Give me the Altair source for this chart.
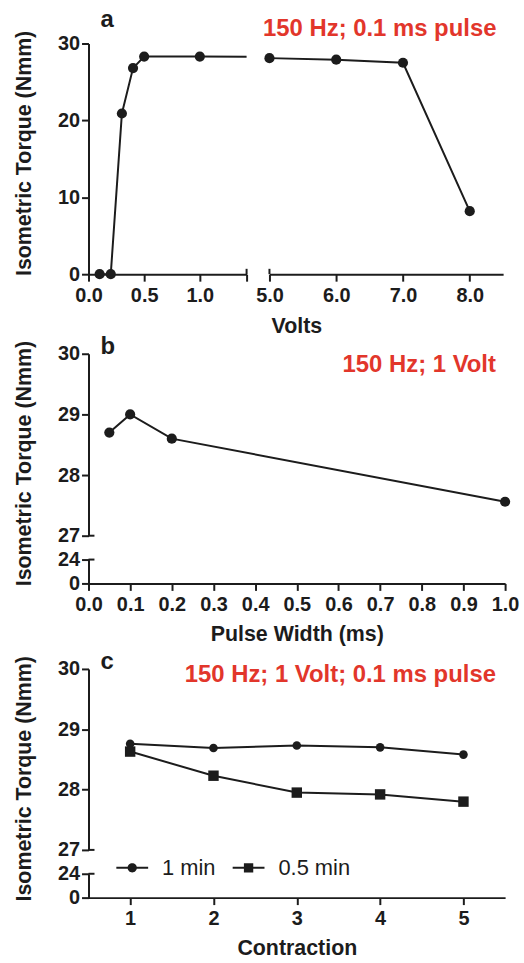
import altair as alt
import pandas as pd

# ---------------- data ----------------
volts_low = [0.1, 0.2, 0.3, 0.4, 0.5, 1.0]
torque_volts_low = [0.0, 0.0, 20.9, 26.8, 28.3, 28.3]
volts_high = [5.0, 6.0, 7.0, 8.0]
torque_volts_high = [28.1, 27.9, 27.5, 8.2]

pulse_width = [0.05, 0.1, 0.2, 1.0]
torque_pulse = [28.7, 29.0, 28.6, 27.56]

contraction = [1, 2, 3, 4, 5]
torque_1min = [28.76, 28.69, 28.73, 28.70, 28.58]
torque_05min = [28.63, 28.23, 27.95, 27.92, 27.80]
series_names = ["1 min", "0.5 min"]

volts_ticks_low = [0.0, 0.5, 1.0]
volts_ticks_high = [5.0, 6.0, 7.0, 8.0]
pulse_ticks = [0.0, 0.1, 0.2, 0.3, 0.4, 0.5, 0.6, 0.7, 0.8, 0.9, 1.0]
contraction_ticks = [1, 2, 3, 4, 5]
torque_ticks_a = [0, 10, 20, 30]
torque_ticks_upper = [27, 28, 29, 30]
torque_ticks_lower = [0, 24]

label_a = "150 Hz; 0.1 ms pulse"
label_b = "150 Hz; 1 Volt"
label_c = "150 Hz; 1 Volt; 0.1 ms pulse"
y_title = "Isometric Torque (Nmm)"

# ---------------- style ----------------
FONT = "Liberation Sans"
INK = "#1c1c1c"
RED = "#e2362b"

# scale domains (axis breaks)
VOLT_LOW_DOM = [0, 1.42]
VOLT_HIGH_DOM = [5, 8.5]
PULSE_DOM = [0, 1]
CONTR_DOM = [0.5, 5.5]
UPPER_DOM = [27, 30]
LOWER_DOM = [0, 24]


def ytitle_axis(values, title_y):
    return alt.Axis(values=values, format="d", title=y_title, titleX=-64, titleY=title_y,
                    titleAngle=-90, titleAlign="center", titleBaseline="middle")


def letter(ch, dy):
    return alt.Chart(pd.DataFrame({"t": [ch]})).mark_text(
        align="left", baseline="alphabetic", font=FONT, fontSize=24, fontWeight="bold", color=INK
    ).encode(text="t:N", x=alt.value(12), y=alt.value(dy))


def note(df, x, y):
    return alt.Chart(df).mark_text(
        align="right", baseline="middle", font=FONT, fontSize=24, fontWeight="bold", color=RED
    ).encode(x=x, y=y, text="label:N")


# ---------------- panel a ----------------
df_volts = pd.DataFrame({
    "volts": volts_low + volts_high,
    "torque": torque_volts_low + torque_volts_high,
    "part": ["low"] * len(volts_low) + ["high"] * len(volts_high),
})

xa_low = alt.X("volts:Q", scale=alt.Scale(domain=VOLT_LOW_DOM, nice=False, zero=False),
               axis=alt.Axis(values=volts_ticks_low + [VOLT_LOW_DOM[1]],
                             labelExpr="datum.value > 1.2 ? '' : format(datum.value, '.1f')",
                             title="Volts", titleX=209, titleY=53, titleBaseline="middle"))
ya = alt.Y("torque:Q", scale=alt.Scale(domain=[0, 30], nice=False),
           axis=ytitle_axis(torque_ticks_a, 110))

a_line = alt.Chart(df_volts).mark_line(clip=True, color=INK, strokeWidth=2).encode(
    x=xa_low, y=ya, order="volts:Q")
a_pts = alt.Chart(df_volts).transform_filter("datum.part == 'low'").mark_circle(
    size=105, color=INK, opacity=1).encode(x=xa_low, y=ya)
a_cap = alt.Chart(pd.DataFrame({"volts": [VOLT_LOW_DOM[1]], "torque": [0], "torque_end": [0.7]})).mark_rule(
    color=INK, strokeWidth=2).encode(x=xa_low, y=ya, y2="torque_end:Q")
a_left = alt.layer(a_line, a_pts, a_cap, letter("a", -17)).properties(width=159, height=232)

xa_high = alt.X("volts:Q", scale=alt.Scale(domain=VOLT_HIGH_DOM, nice=False, zero=False),
                axis=alt.Axis(values=volts_ticks_high, format=".1f", title=None))
ya_r = alt.Y("torque:Q", scale=alt.Scale(domain=[0, 30], nice=False), axis=None)
df_high = df_volts[df_volts.part == "high"]
ar_line = alt.Chart(df_high).mark_line(color=INK, strokeWidth=2).encode(x=xa_high, y=ya_r, order="volts:Q")
ar_pts = alt.Chart(df_high).mark_circle(size=105, color=INK, opacity=1).encode(x=xa_high, y=ya_r)
ar_cap = alt.Chart(pd.DataFrame({"volts": [VOLT_HIGH_DOM[0]], "torque": [0], "torque_end": [0.7]})).mark_rule(
    color=INK, strokeWidth=2).encode(x=xa_high, y=ya_r, y2="torque_end:Q")
ar_note = note(pd.DataFrame({"volts": [8.4], "torque": [31.9], "label": [label_a]}), xa_high, ya_r)
a_right = alt.layer(ar_line, ar_pts, ar_cap, ar_note).properties(width=235, height=232)

panel_a = alt.hconcat(a_left, a_right, spacing=23, bounds="flush")

# ---------------- panel b ----------------
df_pulse = pd.DataFrame({"pulse": pulse_width, "torque": torque_pulse})
xb_up = alt.X("pulse:Q", scale=alt.Scale(domain=PULSE_DOM, nice=False), axis=None)
yb_up = alt.Y("torque:Q", scale=alt.Scale(domain=UPPER_DOM, nice=False, zero=False),
              axis=ytitle_axis(torque_ticks_upper, 110))
b_line = alt.Chart(df_pulse).mark_line(color=INK, strokeWidth=2).encode(x=xb_up, y=yb_up)
b_pts = alt.Chart(df_pulse).mark_circle(size=105, color=INK, opacity=1).encode(x=xb_up, y=yb_up)
b_cap = alt.Chart(pd.DataFrame({"pulse": [0], "pulse_end": [0.0143], "torque": [27]})).mark_rule(
    color=INK, strokeWidth=2).encode(x=xb_up, x2="pulse_end:Q", y=yb_up)
b_note = note(pd.DataFrame({"pulse": [0.978], "torque": [29.82], "label": [label_b]}), xb_up, yb_up)
b_up = alt.layer(b_line, b_pts, b_cap, b_note, letter("b", 0)).properties(width=419, height=183)

xb_low = alt.X("pulse:Q", scale=alt.Scale(domain=PULSE_DOM, nice=False),
               axis=alt.Axis(values=pulse_ticks, format=".1f", title="Pulse Width (ms)",
                             titleX=209.5, titleY=51, titleBaseline="middle"))
yb_low = alt.Y("torque:Q", scale=alt.Scale(domain=LOWER_DOM, nice=False),
               axis=alt.Axis(values=torque_ticks_lower, format="d", title=None))
bl_cap = alt.Chart(pd.DataFrame({"pulse": [0], "pulse_end": [0.0143], "torque": [24]})).mark_rule(
    color=INK, strokeWidth=2).encode(x=xb_low, x2="pulse_end:Q", y=yb_low)
b_low = alt.layer(bl_cap).properties(width=419, height=24)

panel_b = alt.vconcat(b_up, b_low, spacing=24, bounds="flush")

# ---------------- panel c ----------------
df_c = pd.DataFrame({
    "contraction": contraction + contraction,
    "torque": torque_1min + torque_05min,
    "series": [series_names[0]] * len(contraction) + [series_names[1]] * len(contraction),
})
xc_up = alt.X("contraction:Q", scale=alt.Scale(domain=CONTR_DOM, nice=False, zero=False), axis=None)
yc_up = alt.Y("torque:Q", scale=alt.Scale(domain=UPPER_DOM, nice=False, zero=False),
              axis=ytitle_axis(torque_ticks_upper, 110))
c_line = alt.Chart(df_c).mark_line(color=INK, strokeWidth=2).encode(x=xc_up, y=yc_up, detail="series:N")
c_circ = alt.Chart(df_c).transform_filter(f"datum.series == '{series_names[0]}'").mark_point(
    shape="circle", filled=True, size=75, color=INK, opacity=1).encode(x=xc_up, y=yc_up)
c_sq = alt.Chart(df_c).transform_filter(f"datum.series == '{series_names[1]}'").mark_point(
    shape="square", filled=True, size=110, color=INK, opacity=1).encode(x=xc_up, y=yc_up)
c_cap = alt.Chart(pd.DataFrame({"contraction": [0.5], "contraction_end": [0.572], "torque": [27]})).mark_rule(
    color=INK, strokeWidth=2).encode(x=xc_up, x2="contraction_end:Q", y=yc_up)
c_note = note(pd.DataFrame({"contraction": [5.39], "torque": [29.9], "label": [label_c]}), xc_up, yc_up)
c_up = alt.layer(c_line, c_circ, c_sq, c_cap, c_note, letter("c", 0)).properties(width=419, height=182)

xc_low = alt.X("contraction:Q", scale=alt.Scale(domain=CONTR_DOM, nice=False, zero=False),
               axis=alt.Axis(values=contraction_ticks, format="d", title="Contraction",
                             titleX=209.5, titleY=51, titleBaseline="middle"))
yc_low = alt.Y("torque:Q", scale=alt.Scale(domain=LOWER_DOM, nice=False),
               axis=alt.Axis(values=torque_ticks_lower, format="d", title=None))
# legend key symbols: a short line with the series marker on it
circle_line = "M-1.6,-0.1H1.6V0.1H-1.6Z M0.47,0A0.47,0.47,0,1,1,-0.47,0A0.47,0.47,0,1,1,0.47,0Z"
square_line = "M-1.6,-0.1H1.6V0.1H-1.6Z M-0.47,-0.47H0.47V0.47H-0.47Z"
cl_key = alt.Chart(df_c).transform_filter("false").mark_point(filled=True, color=INK, opacity=1, size=400).encode(
    x=xc_low, y=yc_low,
    shape=alt.Shape("series:N", sort=series_names,
                    scale=alt.Scale(domain=series_names, range=[circle_line, square_line]),
                    legend=alt.Legend(orient="none", legendX=33, legendY=818, direction="horizontal",
                                      title=None, symbolSize=400, symbolFillColor=INK,
                                      symbolStrokeWidth=0, labelFont=FONT, labelFontSize=22,
                                      labelFontWeight="normal", labelColor=INK, labelOffset=19,
                                      columnPadding=17, padding=0)))
cl_cap = alt.Chart(pd.DataFrame({"contraction": [0.5], "contraction_end": [0.572], "torque": [24]})).mark_rule(
    color=INK, strokeWidth=2).encode(x=xc_low, x2="contraction_end:Q", y=yc_low)
c_low = alt.layer(cl_key, cl_cap).properties(width=419, height=24)

panel_c = alt.vconcat(c_up, c_low, spacing=24, bounds="flush")

top_ab = alt.vconcat(panel_a, panel_b, spacing=-3)
chart = alt.vconcat(top_ab, panel_c, spacing=5).properties(
    padding={"left": 13, "top": 5, "right": 5, "bottom": 5}
).configure_view(stroke=None).configure_axis(
    grid=False, domainColor=INK, domainWidth=2, tickColor=INK, tickWidth=2, tickSize=7,
    labelFont=FONT, labelFontSize=20, labelFontWeight="bold", labelColor=INK,
    labelFlush=False, labelOverlap=False,
    titleFont=FONT, titleFontSize=21.5, titleFontWeight="bold", titleColor=INK,
).configure_axisX(labelPadding=4).configure_axisY(labelPadding=2)

chart.save("out.html", embed_options={"renderer": "svg", "actions": False})
